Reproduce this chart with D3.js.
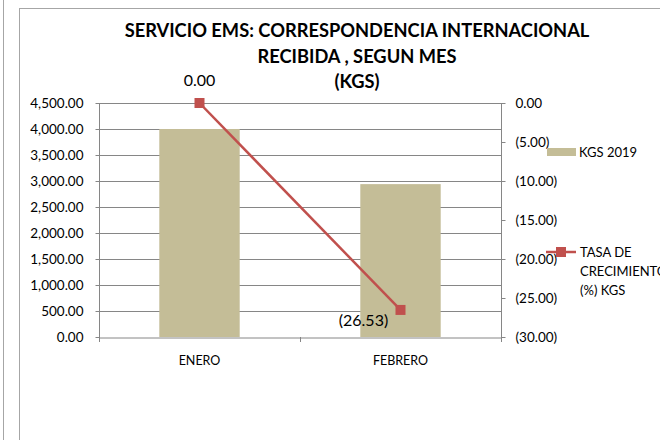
<!DOCTYPE html>
<html>
<head>
<meta charset="utf-8">
<script src="https://cdn.jsdelivr.net/npm/d3@7"></script>
<style>
  body { margin: 0; background: #fff; }
  text { font-family: Lato, "Open Sans", sans-serif; fill: #000; }
</style>
</head>
<body>
<svg id="chart" width="660" height="440"></svg>
<script>
"use strict";

// donnees
var meses = ["ENERO", "FEBRERO"]
var kgs2019 = [4000, 2940]
var tasa = [0, -26.53]
var ticksIzq = [0, 500, 1000, 1500, 2000, 2500, 3000, 3500, 4000, 4500]
var ticksDer = [0, -5, -10, -15, -20, -25, -30]
var titulo = ["SERVICIO EMS: CORRESPONDENCIA INTERNACIONAL", "RECIBIDA , SEGUN MES", "(KGS)"]
var leyendaBarra = "KGS 2019"
var leyendaLinea = ["TASA DE", "CRECIMIENTO", "(%) KGS"]

var svg = d3.select("#chart")
var colorBarra = "#C4BD97"
var colorLinea = "#C0504D"
var gris = "#868686"

var pLeft = 99, pRight = 501, pTop = 103, pBottom = 337

// cadres
svg.append("line").attr("x1", 3.5).attr("x2", 3.5).attr("y1", 0).attr("y2", 440)
  .attr("stroke", "#a6a6a6")
svg.append("rect").attr("x", 19.5).attr("y", 8.5).attr("width", 700).attr("height", 500)
  .attr("fill", "none").attr("stroke", "#a6a6a6")

var x = d3.scaleBand().domain(meses).range([pLeft, pRight]).paddingInner(0.6).paddingOuter(0.3)
var x0 = d3.scaleBand().domain(meses).range([pLeft, pRight])
var y = d3.scaleLinear().domain([0, 4500]).range([pBottom, pTop])
var y2 = d3.scaleLinear().domain([-30, 0]).range([pBottom, pTop])

var fmt = d3.format(",.2f")
function fmtNeg(v) {
  return v < 0 ? "(" + d3.format(".2f")(-v) + ")" : d3.format(".2f")(v)
}

// grille
svg.append("g").selectAll("line").data(ticksIzq.slice(1)).enter().append("line")
  .attr("x1", pLeft).attr("x2", pRight)
  .attr("y1", function(d) { return Math.round(y(d)) + 0.5 })
  .attr("y2", function(d) { return Math.round(y(d)) + 0.5 })
  .attr("stroke", gris)

// barres
svg.append("g").selectAll("rect").data(meses).enter().append("rect")
  .attr("x", function(d) { return x(d) })
  .attr("width", x.bandwidth())
  .attr("y", function(d, i) { return y(kgs2019[i]) })
  .attr("height", function(d, i) { return pBottom - y(kgs2019[i]) })
  .attr("fill", colorBarra)

// axe gauche
var axeG = svg.append("g").attr("transform", "translate(" + (pLeft + 0.5) + ",0)")
  .call(d3.axisLeft(y).tickValues(ticksIzq).tickFormat(fmt).tickSize(4).tickPadding(12))
axeG.selectAll("path, line").attr("stroke", gris)
axeG.selectAll("text").style("font-size", "13.5px")
axeG.select(".domain").attr("d", "M0," + pTop + "V" + (pBottom + 0.5))

// axe droit
var axeD = svg.append("g").attr("transform", "translate(" + (pRight + 0.5) + ",0)")
  .call(d3.axisRight(y2).tickValues(ticksDer).tickFormat(fmtNeg).tickSize(4).tickPadding(10))
axeD.selectAll("path, line").attr("stroke", gris)
axeD.selectAll("text").style("font-size", "13.5px")
axeD.select(".domain").attr("d", "M0," + pTop + "V" + (pBottom + 0.5))

// axe bas
var axeB = svg.append("g").attr("transform", "translate(0," + (pBottom + 0.5) + ")")
  .call(d3.axisBottom(x0).tickSize(0).tickPadding(19))
axeB.select(".domain").attr("stroke", gris)
axeB.selectAll("text").style("font-size", "12.5px")
svg.append("g").selectAll("line").data([pLeft, x0(meses[1]), pRight]).enter().append("line")
  .attr("x1", function(d) { return Math.round(d) + 0.5 }).attr("x2", function(d) { return Math.round(d) + 0.5 })
  .attr("y1", pBottom).attr("y2", pBottom + 5).attr("stroke", gris)

// ligne
var cx = function(d, i) { return x0(meses[i]) + x0.bandwidth() / 2 }
var linea = d3.line().x(function(d, i) { return cx(d, i) }).y(function(d) { return y2(d) })
svg.append("path").datum(tasa).attr("d", linea)
  .attr("fill", "none").attr("stroke", colorLinea).attr("stroke-width", 2.5)
svg.append("g").selectAll("rect").data(tasa).enter().append("rect")
  .attr("x", function(d, i) { return cx(d, i) - 5 })
  .attr("y", function(d) { return y2(d) - 5 })
  .attr("width", 10).attr("height", 10)
  .attr("fill", colorLinea)

// etiquettes
svg.append("g").selectAll("text").data(tasa).enter().append("text")
  .attr("x", function(d, i) { return i === 0 ? cx(d, i) : cx(d, i) - 37 })
  .attr("y", function(d, i) { return i === 0 ? y2(d) - 17 : y2(d) + 16 })
  .attr("text-anchor", "middle")
  .style("font-size", "16px")
  .text(function(d) { return fmtNeg(d) })

// titre
svg.append("g").selectAll("text").data(titulo).enter().append("text")
  .attr("x", 357)
  .attr("y", function(d, i) { return 37 + i * 25.5 })
  .attr("text-anchor", "middle")
  .style("font-size", "18.3px").style("font-weight", "bold")
  .text(function(d) { return d })

// legende
svg.append("rect").attr("x", 547).attr("y", 148).attr("width", 29).attr("height", 8).attr("fill", colorBarra)
svg.append("text").attr("x", 579).attr("y", 157).style("font-size", "13px").text(leyendaBarra)
svg.append("line").attr("x1", 546).attr("x2", 576).attr("y1", 252).attr("y2", 252)
  .attr("stroke", colorLinea).attr("stroke-width", 2.5)
svg.append("rect").attr("x", 556).attr("y", 247).attr("width", 10).attr("height", 10).attr("fill", colorLinea)
svg.append("g").selectAll("text").data(leyendaLinea).enter().append("text")
  .attr("x", 580).attr("y", function(d, i) { return 257 + i * 19 })
  .style("font-size", "13px")
  .text(function(d) { return d })
</script>
</body>
</html>
